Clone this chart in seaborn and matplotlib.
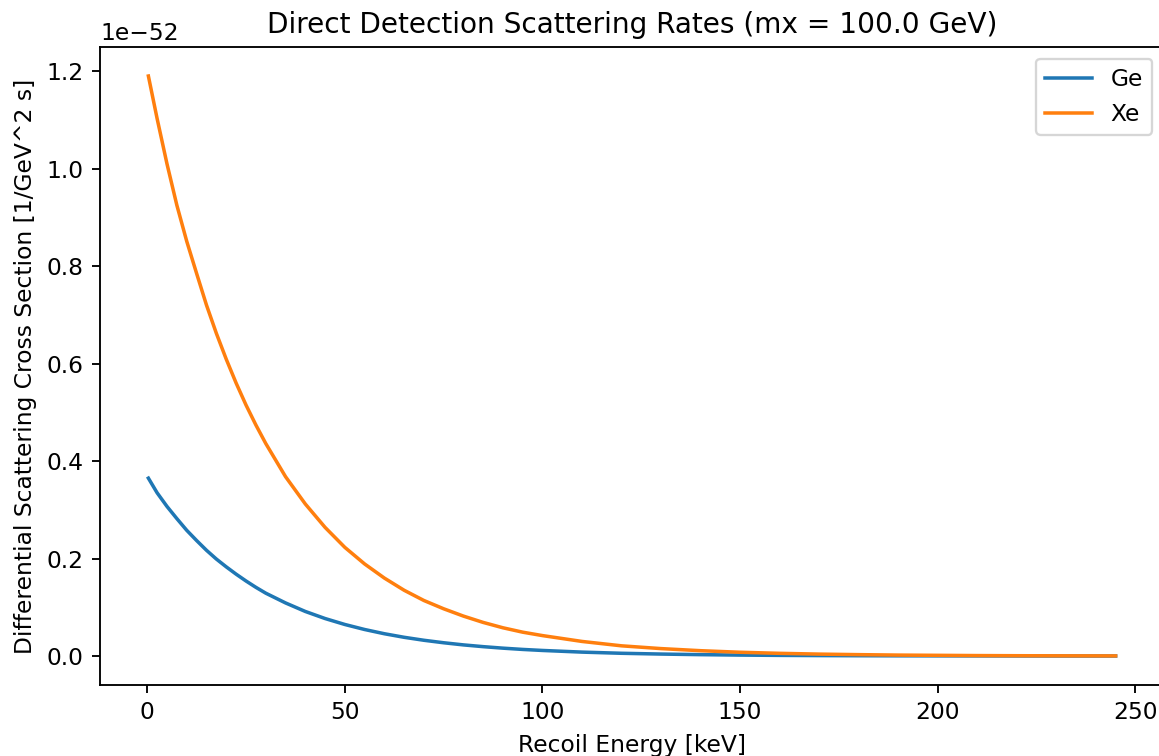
import matplotlib
matplotlib.use("Agg")
import matplotlib.pyplot as plt
import seaborn as sns
import pandas as pd

# ─────────────────────────────────────────────
# DADOS (unidades de 1e-52)
# ─────────────────────────────────────────────
energy = [0.3, 2.5, 5, 7.5, 10, 12.5, 15, 17.5, 20, 22.5, 25, 27.5, 30, 35, 40,
          45, 50, 55, 60, 65, 70, 75, 80, 85, 90, 95, 100, 110, 120, 130, 140,
          150, 160, 170, 180, 190, 200, 210, 220, 230, 245]
xe_rate = [1.19, 1.103, 1.01, 0.925, 0.851, 0.785, 0.720, 0.662, 0.609, 0.560,
           0.515, 0.474, 0.436, 0.368, 0.312, 0.264, 0.223, 0.189, 0.160, 0.135,
           0.114, 0.097, 0.082, 0.069, 0.058, 0.049, 0.042, 0.030, 0.021, 0.0153,
           0.0110, 0.0078, 0.0056, 0.0040, 0.0029, 0.0020, 0.0015, 0.0010,
           0.0007, 0.0005, 0.0003]
ge_rate = [0.365, 0.335, 0.307, 0.282, 0.258, 0.237, 0.217, 0.199, 0.183, 0.168,
           0.154, 0.141, 0.129, 0.109, 0.0915, 0.077, 0.0648, 0.0545, 0.0458,
           0.0385, 0.0324, 0.0273, 0.0229, 0.0193, 0.0162, 0.0136, 0.0115, 0.0081,
           0.0057, 0.0041, 0.0029, 0.0020, 0.0014, 0.0010, 0.0007, 0.0005, 0.0004,
           0.0003, 0.0002, 0.0001, 0.0001]
SCALE = 1e-52

df = pd.DataFrame({
    "E": energy * 2,
    "rate": [v * SCALE for v in ge_rate] + [v * SCALE for v in xe_rate],
    "target": ["Ge"] * len(energy) + ["Xe"] * len(energy),
})

DPI = 168
fig = plt.figure(figsize=(1159 / DPI, 756 / DPI), dpi=DPI)
ax = fig.add_axes([0.0863, 0.0939, 0.918, 0.8439])

for name, color in [("Ge", "#1f77b4"), ("Xe", "#ff7f0e")]:
    sub = df[df["target"] == name]
    sns.lineplot(data=sub, x="E", y="rate", color=color, label=name,
                 linewidth=1.5, ax=ax)

for side in ["top", "left", "bottom"]:
    ax.spines[side].set_visible(True)

ax.set_title("Direct Detection Scattering Rates (mx = 100.0 GeV)")
ax.set_xlabel("Recoil Energy [keV]")
ax.set_ylabel("Differential Scattering Cross Section [1/GeV^2 s]")
ax.legend(loc="upper right")

fig.savefig("out.png", dpi=DPI)
